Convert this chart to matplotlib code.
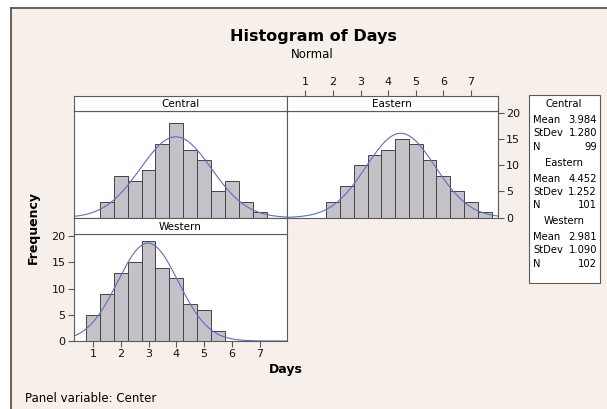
import numpy as np
import matplotlib
matplotlib.use("Agg")
import matplotlib.pyplot as plt
from matplotlib.patches import Rectangle

# ---- data ----
central_centers = [1.5, 2.0, 2.5, 3.0, 3.5, 4.0, 4.5, 5.0, 5.5, 6.0, 6.5, 7.0]
central_counts = [3, 8, 7, 9, 14, 18, 13, 11, 5, 7, 3, 1]
eastern_centers = [2.0, 2.5, 3.0, 3.5, 4.0, 4.5, 5.0, 5.5, 6.0, 6.5, 7.0, 7.5]
eastern_counts = [3, 6, 10, 12, 13, 15, 14, 11, 8, 5, 3, 1]
western_centers = [1.0, 1.5, 2.0, 2.5, 3.0, 3.5, 4.0, 4.5, 5.0, 5.5]
western_counts = [5, 9, 13, 15, 19, 14, 12, 7, 6, 2]
bin_width = 0.5
stats = {
    "Central": (3.984, 1.280, 99),
    "Eastern": (4.452, 1.252, 101),
    "Western": (2.981, 1.090, 102),
}
x_ticks = [1, 2, 3, 4, 5, 6, 7]
y_ticks = [0, 5, 10, 15, 20]

W, H = 607, 409
BG = "#F7F0EA"
BAR = "#C4C2C8"
EDGE = "#444444"
CURVE = "#5A6EC4"
FRAME = "#5A5A5A"

fig = plt.figure(figsize=(W / 100, H / 100), dpi=100)
fig.patch.set_facecolor("white")

def rect(x0, y0, x1, y1):
    return [x0 / W, 1 - y1 / H, (x1 - x0) / W, (y1 - y0) / H]

# background with left/top border
bg = fig.add_axes([0, 0, 1, 1])
bg.set_xlim(0, W); bg.set_ylim(H, 0); bg.axis("off")
bg.add_patch(Rectangle((11, 8), W, H, facecolor=BG, edgecolor="none"))
bg.plot([11, 11], [8, H], color="#4A4A44", lw=1.2)
bg.plot([11, W], [8, 8], color="#4A4A44", lw=1.2)

XL, XM, XR = 74, 286.7, 497.7
YS1, Y1T, Y1B = 95.5, 110.7, 217.7
Y2T, Y2B = 234, 341
xlim = (0.32, 7.97)
ylim = (0, 20.4)

def panel(x0, x1, y0, y1, centers, counts, name):
    ax = fig.add_axes(rect(x0, y0, x1, y1))
    ax.set_facecolor("white")
    ax.bar(centers, counts, width=bin_width, color=BAR, edgecolor=EDGE, linewidth=0.7)
    m, s, n = stats[name]
    xs = np.linspace(xlim[0], xlim[1], 300)
    ys = n * bin_width / (s * np.sqrt(2 * np.pi)) * np.exp(-0.5 * ((xs - m) / s) ** 2)
    ax.plot(xs, ys, color=CURVE, lw=0.8)
    ax.set_xlim(*xlim); ax.set_ylim(*ylim)
    for sp in ax.spines.values():
        sp.set_color(FRAME); sp.set_linewidth(0.8)
    ax.tick_params(axis="both", which="both", length=0, left=False, right=False,
                   top=False, bottom=False, labelbottom=False, labelleft=False)
    return ax

def strip(x0, x1, y0, y1, label):
    ax = fig.add_axes(rect(x0, y0, x1, y1))
    ax.set_facecolor("white")
    ax.set_xticks([]); ax.set_yticks([])
    for sp in ax.spines.values():
        sp.set_color(FRAME); sp.set_linewidth(0.8)
    ax.text(0.5, 0.45, label, ha="center", va="center", fontsize=7.5, transform=ax.transAxes)
    return ax

axc = panel(XL, XM, Y1T, Y1B, central_centers, central_counts, "Central")
axe = panel(XM, XR, Y1T, Y1B, eastern_centers, eastern_counts, "Eastern")
axw = panel(XL, XM, Y2T, Y2B, western_centers, western_counts, "Western")
strip(XL, XM, YS1, Y1T, "Central")
strip(XM, XR, YS1, Y1T, "Eastern")
strip(XL, XM, Y1B, Y2T, "Western")

tk = dict(length=4, width=0.8, color=FRAME, labelsize=8, labelcolor="#111111")
axc.set_yticks([]); axc.set_xticks([])
# Western: left y and bottom x
axw.set_yticks(y_ticks)
axw.tick_params(axis="y", left=True, labelleft=True, right=False, pad=2, **tk)
axw.set_xticks(x_ticks)
axw.tick_params(axis="x", bottom=True, labelbottom=True, top=False, pad=2, **tk)
# Eastern: right y
axe.set_yticks(y_ticks)
axe.set_xticks([])
axe.tick_params(axis="y", right=True, labelright=True, left=False, labelleft=False, pad=2, **tk)
# top x axis above the Eastern strip
top = fig.add_axes(rect(XM, YS1, XR, YS1 + 1))
top.set_xlim(*xlim); top.set_yticks([])
top.patch.set_alpha(0)
for sp in top.spines.values():
    sp.set_visible(False)
top.set_xticks(x_ticks)
top.tick_params(axis="x", top=True, labeltop=True, bottom=False, labelbottom=False, pad=2, **tk)

# titles and labels
fig.text(313 / W, 1 - 37 / H, "Histogram of Days", ha="center", va="center",
         fontsize=11.5, fontweight="bold")
fig.text(312 / W, 1 - 54 / H, "Normal", ha="center", va="center", fontsize=8.5)
fig.text(286 / W, 1 - 370 / H, "Days", ha="center", va="center", fontsize=9, fontweight="bold")
fig.text(33 / W, 1 - 228 / H, "Frequency", ha="center", va="center", rotation=90,
         fontsize=9, fontweight="bold")
fig.text(25 / W, 1 - 399 / H, "Panel variable: Center", ha="left", va="center", fontsize=8.5)

# stats box
bg.add_patch(Rectangle((529, 95), 71, 188, facecolor="white", edgecolor=FRAME, lw=0.8))
y = 104
for name, (m, s, n) in stats.items():
    bg.text(564, y, name, ha="center", va="center", fontsize=7.2)
    rows = [("Mean", f"{m:.3f}"), ("StDev", f"{s:.3f}"), ("N", f"{n}")]
    yy = y + 16
    for lab, val in rows:
        bg.text(533, yy, lab, ha="left", va="center", fontsize=7.2)
        bg.text(597, yy, val, ha="right", va="center", fontsize=7.2)
        yy += 13.3
    y += 58.5

fig.savefig("out.png", dpi=100, facecolor=fig.get_facecolor())
